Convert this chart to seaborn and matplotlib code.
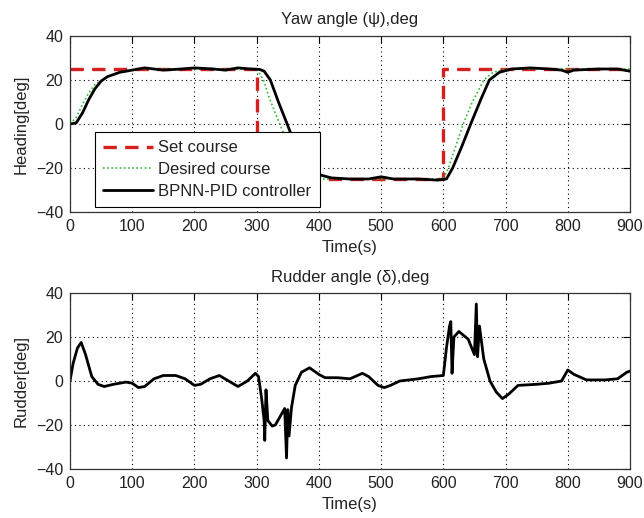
import matplotlib
matplotlib.use("Agg")
import matplotlib.pyplot as plt
from matplotlib import font_manager
import seaborn as sns
import pandas as pd

# ---- data ----
set_t = [0, 300, 300, 600, 600, 900]
set_y = [25, 25, -25, -25, 25, 25]

des_t = [0, 10, 20, 30, 40, 60, 80, 100, 120, 300, 311, 320, 337, 360, 380, 400,
         600, 608, 620, 632, 645, 665, 680, 700, 900]
des_y = [0, 3, 9, 14, 18, 21.5, 23.5, 24.5, 25, 25, 20, 12, 0, -15, -22, -25,
         -25, -20, -10, 0, 9, 20, 23.5, 25, 25]

ctl_t = [0, 10, 20, 30, 40, 50, 60, 80, 100, 120, 150, 180, 200, 230, 250, 270, 290, 305, 312,
         322, 335, 349, 360, 380, 400, 420, 450, 480, 500, 520, 560, 590, 605, 615,
         630, 644, 660, 674, 690, 710, 740, 770, 790, 800, 810, 850, 880, 900]
ctl_y = [0, 0.5, 5, 11, 16, 19.5, 21.5, 23.5, 24.5, 25.5, 24.5, 25, 25.5, 25, 24.5, 25.5, 25, 24.8, 24,
         20, 10, 0, -8, -18, -23, -24.5, -25, -25, -24, -25, -25, -25.5, -25, -20,
         -10, 0, 11, 20, 23.5, 25, 25.5, 25, 24.5, 23.5, 24.5, 25, 25, 24]

rud_t = [0, 5, 12, 18, 25, 35, 45, 55, 70, 90, 100, 110, 120, 135, 150, 170, 185, 200, 210, 225,
         240, 255, 270, 285, 298, 303, 308, 312, 313, 315, 318, 325, 330, 340, 345, 348, 350, 352,
         356, 362, 372, 385, 400, 410, 430, 450, 470, 480, 495, 505, 515, 530, 560, 580, 600, 605,
         610, 612, 614, 617, 625, 640, 650, 653, 655, 658, 665, 675, 685, 695, 705, 720, 750, 770,
         790, 800, 810, 830, 860, 880, 895, 900]
rud_y = [0, 8, 15, 17.5, 12, 2, -1.5, -2.5, -1.5, -0.5, -1, -3, -2.5, 1, 2.5, 2.5, 1, -2, -1.5, 1,
         2.5, 0, -2.5, 0, 3.5, 2, -8, -18, -27, -4, -18, -20.5, -20, -15, -12.5, -35, -13, -25,
         -12, -2, 4, 6, 3, 1.5, 1.5, 1, 3.5, 2, -2, -3, -2, 0, 1, 2, 2.5, 15,
         25, 27, 3.5, 20, 22.5, 19, 12, 35, 11, 25, 10, 0, -5, -8, -6, -2, -1.5, -1,
         0, 5, 3, 0.5, 0.5, 1, 4, 4.5]

xticks = [0, 100, 200, 300, 400, 500, 600, 700, 800, 900]
yticks = [-40, -20, 0, 20, 40]

sns.set_theme(style="white")
names = {f.name for f in font_manager.fontManager.ttflist}
if "Liberation Sans Narrow" in names:
    plt.rcParams['font.family'] = ['Liberation Sans Narrow', 'DejaVu Sans']
    fs, tfs = 14.5, 14
else:
    plt.rcParams['font.family'] = ['Liberation Sans', 'DejaVu Sans']
    fs, tfs = 12, 11.5
plt.rcParams['xtick.direction'] = 'in'
plt.rcParams['ytick.direction'] = 'in'

fig = plt.figure(figsize=(6.44, 5.18), dpi=100)
W, H = 644, 518
L, R = 70, 630
ax1 = fig.add_axes([L / W, 1 - 212 / H, (R - L) / W, (212 - 36) / H])
ax2 = fig.add_axes([L / W, 1 - 469 / H, (R - L) / W, (469 - 293) / H])

df_set = pd.DataFrame({"t": set_t, "y": set_y})
df_des = pd.DataFrame({"t": des_t, "y": des_y})
df_ctl = pd.DataFrame({"t": ctl_t, "y": ctl_y})
df_rud = pd.DataFrame({"t": rud_t, "y": rud_y})

sns.lineplot(data=df_set, x="t", y="y", ax=ax1, color="#d62020", lw=2.4, ls=(0, (4, 2.5)),
             sort=False, estimator=None, label="Set course")
sns.lineplot(data=df_des, x="t", y="y", ax=ax1, color="#33bb33", lw=1.2, ls=(0, (1, 1.5)),
             sort=False, estimator=None, label="Desired course")
sns.lineplot(data=df_ctl, x="t", y="y", ax=ax1, color="black", lw=2.0,
             sort=False, estimator=None, label="BPNN-PID controller")
sns.lineplot(data=df_rud, x="t", y="y", ax=ax2, color="black", lw=2.0,
             sort=False, estimator=None)

for ax, title, ylab, tpad in [(ax1, "Yaw angle (\u03c8),deg", "Heading[deg]", 9),
                              (ax2, "Rudder angle (\u03b4),deg", "Rudder[deg]", 8)]:
    ax.set_xlim(0, 900)
    ax.set_ylim(-40, 40)
    ax.set_xticks(xticks)
    ax.set_yticks(yticks)
    ax.tick_params(labelsize=tfs, length=5, width=0.8, color="black", pad=5, top=True, right=True,
                   labelcolor="#222222")
    ax.grid(True, color="black", ls=(0, (1, 3)), lw=0.8)
    for s in ax.spines.values():
        s.set_color("#333333")
        s.set_linewidth(0.9)
    ax.set_title(title, fontsize=fs, pad=tpad, color="#222222")
    ax.set_xlabel("Time(s)", fontsize=fs, labelpad=4, color="#222222")
    ax.set_ylabel(ylab, fontsize=fs, labelpad=5, color="#222222")

leg = ax1.legend(loc="lower left", bbox_to_anchor=((95 - L) / (R - L), 5 / 176),
                 fontsize=fs, handlelength=3.0, frameon=True, fancybox=False,
                 borderaxespad=0, borderpad=0.5, labelspacing=0.4, handletextpad=0.3)
leg.get_frame().set_edgecolor("black")
leg.get_frame().set_linewidth(0.8)
leg.get_frame().set_alpha(1)
for t in leg.get_texts():
    t.set_color("#222222")

fig.savefig("out.png", dpi=100)
